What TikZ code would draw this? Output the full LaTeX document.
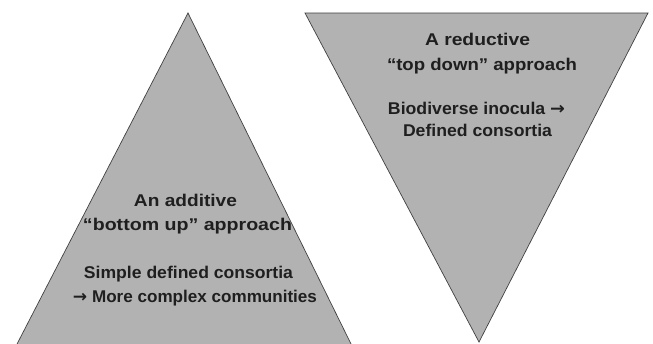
\documentclass[tikz,border=0pt]{standalone}
\usepackage{fontspec}
\usepackage{graphicx}
\setmainfont{Liberation Sans}
\newfontfamily\arrowfont{DejaVu Sans}
\newcommand{\fitline}[2]{\resizebox{#1pt}{\height}{#2}}
\begin{document}
\begin{tikzpicture}[x=1pt,y=-1pt,
  tri/.style={fill=black!30,draw=black!75,line width=0.7pt,line join=miter},
  lbl/.style={font=\bfseries\fontsize{17}{24}\selectfont,text=black!88,inner sep=0pt,anchor=base}]
\useasboundingbox (0,0) rectangle (653,343);
\clip (0,0) rectangle (653,343);
\fill[white] (0,0) rectangle (653,343);
\draw[tri] (188,13) coordinate (la) -- (16,346) coordinate (lb) -- (352,346) coordinate (lc) -- cycle;
\draw[tri] (305,13) coordinate (ra) -- (648,13) coordinate (rb) -- (479,342) coordinate (rc) -- cycle;
\node[lbl] (l1a) at (185.5,206) {\fitline{103}{An additive}};
\node[lbl] (l1b) at (187.5,230) {\fitline{209}{“bottom up” approach}};
\node[lbl] (l2a) at (188.5,278) {\fitline{209}{Simple defined consortia}};
\node[lbl] (l2b) at (195,302) {\fitline{244}{{\arrowfont\bfseries →} More complex communities}};
\node[lbl] (r1a) at (477.5,45) {\fitline{105}{A reductive}};
\node[lbl] (r1b) at (482,70) {\fitline{190}{“top down” approach}};
\node[lbl] (r2a) at (476.5,114) {\fitline{177}{Biodiverse inocula {\arrowfont\bfseries →}}};
\node[lbl] (r2b) at (477.5,136) {\fitline{149}{Defined consortia}};
\end{tikzpicture}
\end{document}
